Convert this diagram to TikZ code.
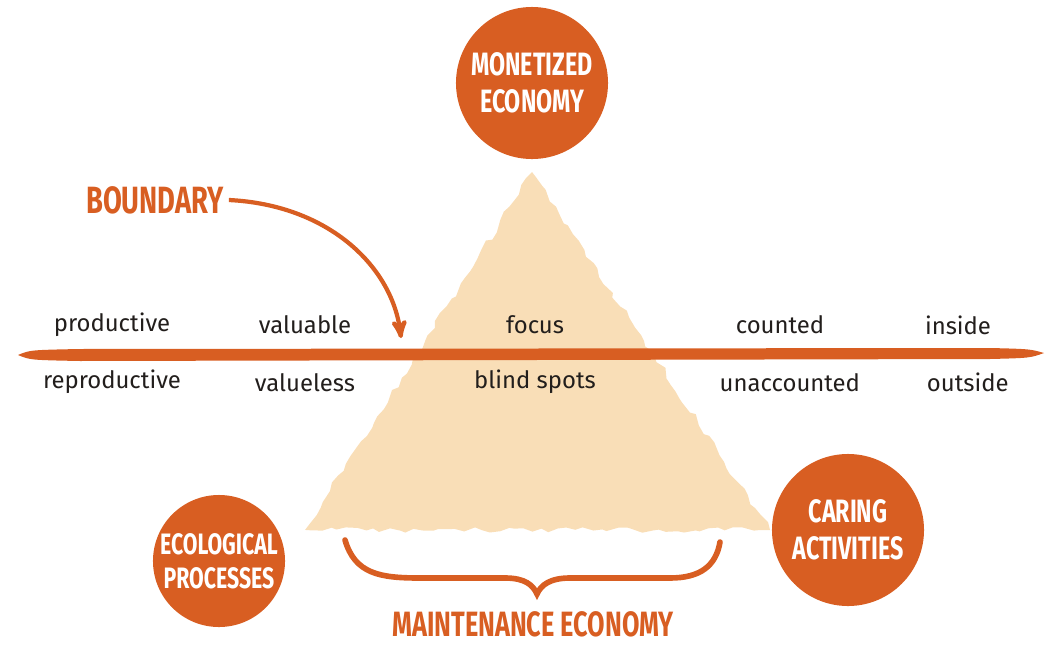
\documentclass[tikz,border=0pt]{standalone}
\usepackage{fontspec}
\setmainfont{Fira Sans}
\newfontfamily\capsfont[FakeStretch=0.72]{Fira Sans}
\usepackage{tikz}
\usetikzlibrary{arrows,positioning,decorations.pathmorphing}
\definecolor{rust}{RGB}{216,94,34}
\definecolor{sand}{RGB}{249,222,183}
\definecolor{ink}{RGB}{34,30,28}

\begin{document}
\begin{tikzpicture}[x=0.025cm, y=-0.025cm, >=stealth', semithick, node distance=1.43cm]
\tikzstyle{blob}=[circle, fill=rust, text=white, align=center, inner sep=0pt, font=\capsfont\bfseries\fontsize{23}{26}\selectfont]
\tikzstyle{word}=[text=ink, font=\fontsize{17}{20}\selectfont]
\tikzstyle{tag}=[text=rust, font=\capsfont\bfseries\fontsize{27}{30}\selectfont]
\tikzstyle{rough}=[decorate, decoration={random steps, segment length=6pt, amplitude=2pt}]
\useasboundingbox (0,0) rectangle (1048,645);
% the pyramid behind everything
\coordinate (apex)  at (532,172);
\coordinate (baseL) at (305,530);
\coordinate (baseR) at (770,530);
\fill[sand, rough] (apex) -- (baseL) -- (baseR) -- cycle;
% the boundary line, tapered at both ends
\coordinate (lineL) at (18,355);
\coordinate (lineR) at (1044,353);
\fill[rust] (lineL) .. controls (30,350) .. (80,349) -- (990,348)
  .. controls (1030,349) .. (lineR) .. controls (1030,358) .. (990,359)
  -- (80,361) .. controls (30,360) .. (lineL) -- cycle;
% words above and below the line
\node[word] (prod)  at (112,325)            {productive};
\node[word] (val)   at (305,325)            {valuable};
\node[word] (focus) at (535,325)            {focus};
\node[word] (count) at (780,325)            {counted};
\node[word] (ins)   at (958,325)            {inside};
\node[word] (reprod)[below of=prod]         {reproductive};
\node[word] (vless) [below of=val]          {valueless};
\node[word] (blind) [below of=focus]        {blind spots};
\node[word] (uncount)[below of=count, xshift=7pt] {unaccounted};
\node[word] (outs)  [below of=ins, xshift=7pt]    {outside};
% the three spheres
\node[blob, minimum size=3.8cm] (money) at (532,83)  {MONETIZED\\ECONOMY};
\node[blob, minimum size=3.3cm, font=\capsfont\bfseries\fontsize{21}{24}\selectfont] (eco) at (219,561) {ECOLOGICAL\\PROCESSES};
\node[blob, minimum size=3.8cm] (care)  at (848,530) {CARING\\ACTIVITIES};
% boundary label and its arrow
\node[tag] (bound) at (155,200) {BOUNDARY};
\coordinate (hit) at (401,338);
\draw[->, rust, line width=3pt] (bound.east) .. controls (330,205) and (393,268) .. (hit);
% brace over the maintenance economy
\node[tag, font=\capsfont\bfseries\fontsize{25}{28}\selectfont, inner sep=1pt] (upkeep) at (533,624) {MAINTENANCE ECONOMY};
\coordinate (braceL) at (345,540);
\coordinate (braceR) at (720,542);
\coordinate (braceTip) at (537,594);
\draw[rust, line width=4pt, line cap=round] (braceL) .. controls (355,574) and (380,578) .. (420,578)
  -- (505,578) .. controls (525,578) and (533,585) .. (braceTip)
  .. controls (541,585) and (550,578) .. (570,578) -- (670,578)
  .. controls (700,578) and (716,566) .. (braceR);
\end{tikzpicture}
\end{document}
